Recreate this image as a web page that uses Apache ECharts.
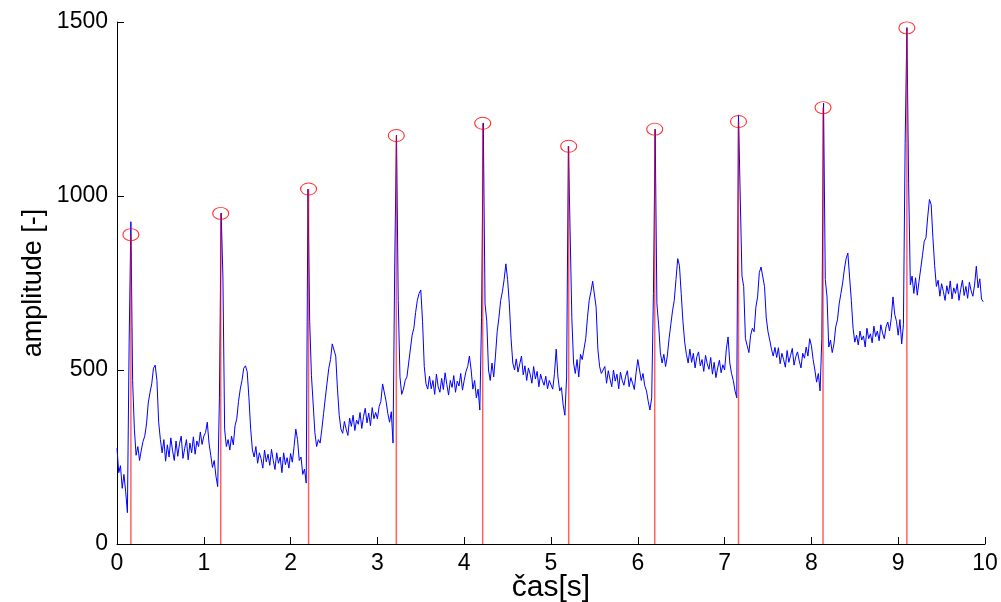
<!DOCTYPE html>
<html>
<head>
<meta charset="utf-8">
<script src="https://cdn.jsdelivr.net/npm/echarts@6/dist/echarts.min.js"></script>
<style>
html,body{margin:0;padding:0;background:#fff}
#chart{width:1001px;height:602px}
</style>
</head>
<body>
<div id="chart"></div>
<script>
// ECG samples, one array per second (step 0.02 s)
var sampleStep = 0.02;
var sec0 = [275,205,225,160,200,150,90,580,926,470, 330,255,280,240,270,295,310,345,405,435,
  460,505,514,470,350,300,262,300,238,285, 250,305,268,240,296,252,288,310,246,275,
  300,242,290,262,308,258,296,280,322,286];
var sec1 = [310,320,350,290,255,220,240,195,165,420, 951,770,330,280,300,270,310,285,340,360,
  410,445,470,505,512,495,420,330,270,250, 280,232,262,245,218,270,236,258,226,272,
  240,214,262,232,250,205,262,228,248,218];
var sec2 = [260,235,280,330,300,240,250,200,215,175, 1020,640,485,480,320,280,300,290,330,375,
  420,463,505,530,575,575,540,445,370,330, 318,352,330,312,362,338,370,326,356,344,
  378,332,366,390,348,376,340,392,360,378];
var sec3 = [360,395,410,460,465,410,375,350,380,290, 810,1175,700,480,430,445,470,480,520,525,
  600,620,665,700,720,730,640,510,460,445, 482,446,470,430,488,452,436,476,444,492,
  458,428,470,450,484,436,468,454,490,442];
var sec4 = [470,495,510,540,500,445,470,420,445,385, 650,1210,690,640,500,470,520,480,540,610,
  650,700,725,760,805,760,690,590,520,500, 532,494,518,540,486,512,470,506,488,462,
  510,474,496,452,488,470,456,482,446,470];
var sec5 = [475,445,490,560,480,440,450,400,370,480, 1143,900,650,520,490,530,480,545,530,560,
  590,650,700,725,755,755,680,560,510,490, 486,510,462,498,474,452,500,468,488,446,
  494,470,456,482,498,452,478,462,444,492];
var sec6 = [530,500,470,490,455,440,410,385,420,720, 1192,690,630,549,520,545,510,540,590,630,
  670,700,760,820,800,720,640,580,545,520, 560,522,548,506,538,552,512,530,496,542,
  518,502,536,488,522,478,506,528,492,515];
var sec7 = [500,560,595,520,490,470,440,420,1233,1000, 770,740,590,570,550,600,620,610,680,710,
  780,796,796,740,650,610,586,560,540,565, 536,564,518,548,530,508,556,522,542,562,
  514,538,552,526,506,548,534,566,540,590];
var sec8 = [570,530,500,465,490,440,590,1267,760,710, 566,586,550,575,624,644,690,720,750,790,
  820,836,767,700,620,580,600,572,612,586, 598,566,620,590,604,578,626,596,612,584,
  630,606,590,624,638,612,648,710,660,640];
var sec9 = [600,645,575,630,1150,1484,1037,745,770,720, 765,715,755,760,830,870,880,940,990,975,
  880,800,740,758,712,748,726,700,742,718, 756,704,736,720,748,700,732,758,714,740,
  706,752,728,712,744,798,736,762,704,696];

// detected R peaks
var peakTimes = [0.16, 1.195, 2.207, 3.218, 4.213, 5.204, 6.195, 7.16, 8.134, 9.10];
var peakValues = [889, 950, 1020, 1174, 1209, 1143, 1192, 1214, 1254, 1483];

var signal = sec0.concat(sec1, sec2, sec3, sec4, sec5, sec6, sec7, sec8, sec9);
var signalData = [];
for (var i = 0; i < signal.length; i++) {
  signalData.push([+(i * sampleStep).toFixed(2), signal[i]]);
}

var series = [{
  name: 'ekg',
  type: 'line',
  data: signalData,
  showSymbol: false,
  symbol: 'none',
  lineStyle: {color: '#0000ff', width: 1},
  z: 2
}];
for (var k = 0; k < peakTimes.length; k++) {
  series.push({
    type: 'line',
    data: [[peakTimes[k], 0], [peakTimes[k], peakValues[k]]],
    symbol: 'none',
    lineStyle: {color: 'rgba(255,0,0,0.62)', width: 1.5},
    z: 3
  });
}
series.push({
  type: 'scatter',
  data: peakTimes.map(function (t, j) { return [t, peakValues[j]]; }),
  symbol: 'circle',
  symbolSize: [16, 12],
  itemStyle: {color: 'rgba(0,0,0,0)', borderColor: '#ff0000', borderWidth: 1},
  z: 4
});

var font = 'Liberation Sans, Arial, sans-serif';
function plain(v) { return String(v); }
var option = {
  animation: false,
  backgroundColor: '#fff',
  grid: {left: 117, right: 16, top: 22, bottom: 58, containLabel: false, outerBoundsMode: 'none'},
  xAxis: {
    type: 'value',
    min: 0, max: 10, interval: 1,
    name: 'čas[s]',
    nameLocation: 'middle',
    nameGap: 29,
    nameMoveOverlap: false,
    nameTextStyle: {color: '#000', fontSize: 30, fontFamily: font},
    axisLine: {show: true, lineStyle: {color: '#000', width: 1}},
    axisTick: {show: true, inside: true, length: 7, lineStyle: {color: '#000'}},
    axisLabel: {color: '#000', fontSize: 23, fontFamily: font, margin: 8, formatter: plain},
    splitLine: {show: false}
  },
  yAxis: {
    type: 'value',
    min: 0, max: 1500, interval: 500,
    name: 'amplitude [-]',
    nameLocation: 'middle',
    nameRotate: 90,
    nameGap: 70,
    nameMoveOverlap: false,
    nameTextStyle: {color: '#000', fontSize: 27, fontFamily: font},
    axisLine: {show: true, lineStyle: {color: '#000', width: 1}},
    axisTick: {show: true, inside: true, length: 7, lineStyle: {color: '#000'}},
    axisLabel: {color: '#000', fontSize: 23, fontFamily: font, margin: 9, formatter: plain},
    splitLine: {show: false}
  },
  series: series
};

var chart = echarts.init(document.getElementById('chart'));
chart.setOption(option);
</script>
</body>
</html>
